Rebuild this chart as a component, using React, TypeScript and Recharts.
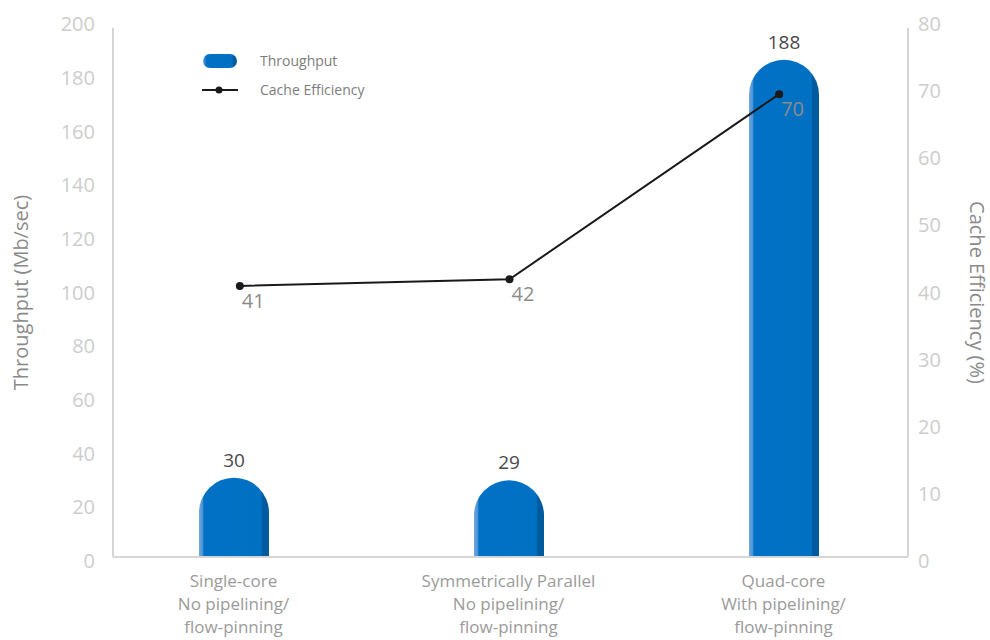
import { ComposedChart, Bar, Line, XAxis, YAxis, LabelList } from 'recharts';

const categories = ['Single-core', 'Symmetrically Parallel', 'Quad-core'];
const pipelining = ['No pipelining/', 'No pipelining/', 'With pipelining/'];
const pinning = ['flow-pinning', 'flow-pinning', 'flow-pinning'];
const throughput = [30, 29, 188];
const cacheEfficiency = [41, 42, 70];
const leftTicks = [0, 20, 40, 60, 80, 100, 120, 140, 160, 180, 200];
const rightTicks = [0, 10, 20, 30, 40, 50, 60, 70, 80];

const data = categories.map((name, i) => ({
    name,
    line2: pipelining[i],
    line3: pinning[i],
    throughput: throughput[i],
    cache: cacheEfficiency[i],
}));

const FONT = '"Open Sans", sans-serif';
const AXIS = '#d6d6d6';
const BLUE = '#0071c5';

// pill shaped bar: half-circle top, flat bottom
function PillBar(props: any) {
    const { x, y, width, height } = props;
    const r = width / 2;
    const top = Math.min(r, height);
    const d = `M${x},${y + height} L${x},${y + top} A${r},${top} 0 0 1 ${x + width},${y + top} L${x + width},${y + height} Z`;
    return <path d={d} fill="url(#barGrad)" />;
}

function XTick({ x, y, payload, index }: any) {
    const row = data[index] || data.find((d) => d.name === payload.value);
    return (
        <text x={x} y={y} textAnchor="middle" fill="#9b9b9b" fontSize={17} fontFamily={FONT}>
            <tspan x={x} dy={22}>{row.name}</tspan>
            <tspan x={x} dy={23}>{row.line2}</tspan>
            <tspan x={x} dy={23}>{row.line3}</tspan>
        </text>
    );
}

// tick labels sit a touch wider apart than the gridline spacing in the original
function LeftTick({ x, y, payload }: any) {
    return (
        <text x={x} y={y + 4 - 8 * (payload.value / 200)} dy="0.355em" textAnchor="end" fill="#cdcdcd" fontSize={20} fontFamily={FONT}>
            {payload.value}
        </text>
    );
}

function RightTick({ x, y, payload }: any) {
    return (
        <text x={x} y={y + 4 - 8 * (payload.value / 80)} dy="0.355em" textAnchor="start" fill="#cdcdcd" fontSize={20} fontFamily={FONT}>
            {payload.value}
        </text>
    );
}

function BarValue({ x, y, width, value }: any) {
    return (
        <text x={x + width / 2} y={y - 11} textAnchor="middle" fill="#4a4a4a" fontSize={19} fontFamily={FONT}>
            {value}
        </text>
    );
}

function LineValue({ x, y, value }: any) {
    return (
        <text x={x + 2} y={y + 22} textAnchor="start" fill="#8c8c8c" fontSize={20} fontFamily={FONT}>
            {value}
        </text>
    );
}

function LegendBox() {
    const text = { fontSize: 14, color: '#7d7d7d', fontFamily: FONT, marginLeft: 22 };
    return (
        <div style={{ position: 'absolute', left: 202, top: 46 }}>
            <div style={{ display: 'flex', alignItems: 'center', height: 29 }}>
                <div
                    style={{
                        width: 34,
                        height: 14,
                        margin: '0 1px',
                        borderRadius: 7,
                        background: 'linear-gradient(to right, #6fa8e0 0%, #0071c5 10%, #0070c2 85%, #005a9e 90%)',
                    }}
                />
                <span style={text}>Throughput</span>
            </div>
            <div style={{ display: 'flex', alignItems: 'center', height: 29 }}>
                <svg width={36} height={16}>
                    <line x1={0} y1={8} x2={36} y2={8} stroke="#1a1a1a" strokeWidth={2} />
                    <circle cx={17} cy={8} r={3.5} fill="#1a1a1a" />
                </svg>
                <span style={text}>Cache Efficiency</span>
            </div>
        </div>
    );
}

export default function App() {
    return (
        <div style={{ position: 'absolute', left: 0, top: 0, width: 990, height: 640, background: '#fff' }}>
            <ComposedChart
                width={990}
                height={640}
                data={data}
                margin={{ top: 28, right: 0, bottom: 0, left: 0 }}
            >
                <defs>
                    <linearGradient id="barGrad" x1="0" y1="0" x2="1" y2="0">
                        <stop offset="0%" stopColor="#6fa8e0" />
                        <stop offset="5%" stopColor="#4d93d6" />
                        <stop offset="7%" stopColor={BLUE} />
                        <stop offset="89%" stopColor="#0070c2" />
                        <stop offset="91%" stopColor="#005a9e" />
                        <stop offset="100%" stopColor="#005a9e" />
                    </linearGradient>
                </defs>
                <XAxis
                    xAxisId="bars"
                    dataKey="name"
                    height={83}
                    padding={{ left: -17, right: -13 }}
                    axisLine={{ stroke: AXIS, strokeWidth: 2 }}
                    tickLine={false}
                    tick={<XTick />}
                    interval={0}
                />
                <XAxis xAxisId="line" dataKey="name" hide padding={{ left: -8, right: -6 }} />
                <YAxis
                    yAxisId="left"
                    width={113}
                    domain={[0, 200]}
                    ticks={leftTicks}
                    interval={0}
                    axisLine={{ stroke: AXIS, strokeWidth: 2 }}
                    tickLine={false}
                    tickSize={0}
                    tickMargin={18}
                    tick={<LeftTick />}
                    label={{
                        value: 'Throughput (Mb/sec)',
                        angle: -90,
                        position: 'insideLeft',
                        offset: 0,
                        dx: 21,
                        style: { textAnchor: 'middle', fill: '#8a8a8a', fontSize: 20, fontFamily: FONT },
                    }}
                />
                <YAxis
                    yAxisId="right"
                    orientation="right"
                    width={82}
                    domain={[0, 80]}
                    ticks={rightTicks}
                    interval={0}
                    axisLine={{ stroke: AXIS, strokeWidth: 2 }}
                    tickLine={false}
                    tickSize={0}
                    tickMargin={10}
                    tick={<RightTick />}
                    label={{
                        value: 'Cache Efficiency (%)',
                        angle: 90,
                        position: 'insideRight',
                        offset: 0,
                        dx: -13,
                        style: { textAnchor: 'middle', fill: '#8a8a8a', fontSize: 20, fontFamily: FONT },
                    }}
                />
                <Bar
                    xAxisId="bars"
                    yAxisId="left"
                    dataKey="throughput"
                    name="Throughput"
                    barSize={70}
                    fill={BLUE}
                    shape={<PillBar />}
                    isAnimationActive={false}
                >
                    <LabelList dataKey="throughput" content={<BarValue />} />
                </Bar>
                <Line
                    xAxisId="line"
                    yAxisId="right"
                    dataKey="cache"
                    name="Cache Efficiency"
                    stroke="#1a1a1a"
                    strokeWidth={2}
                    dot={{ r: 4, fill: '#1a1a1a', stroke: '#1a1a1a', strokeWidth: 0 }}
                    isAnimationActive={false}
                >
                    <LabelList dataKey="cache" content={<LineValue />} />
                </Line>
            </ComposedChart>
            <LegendBox />
        </div>
    );
}
